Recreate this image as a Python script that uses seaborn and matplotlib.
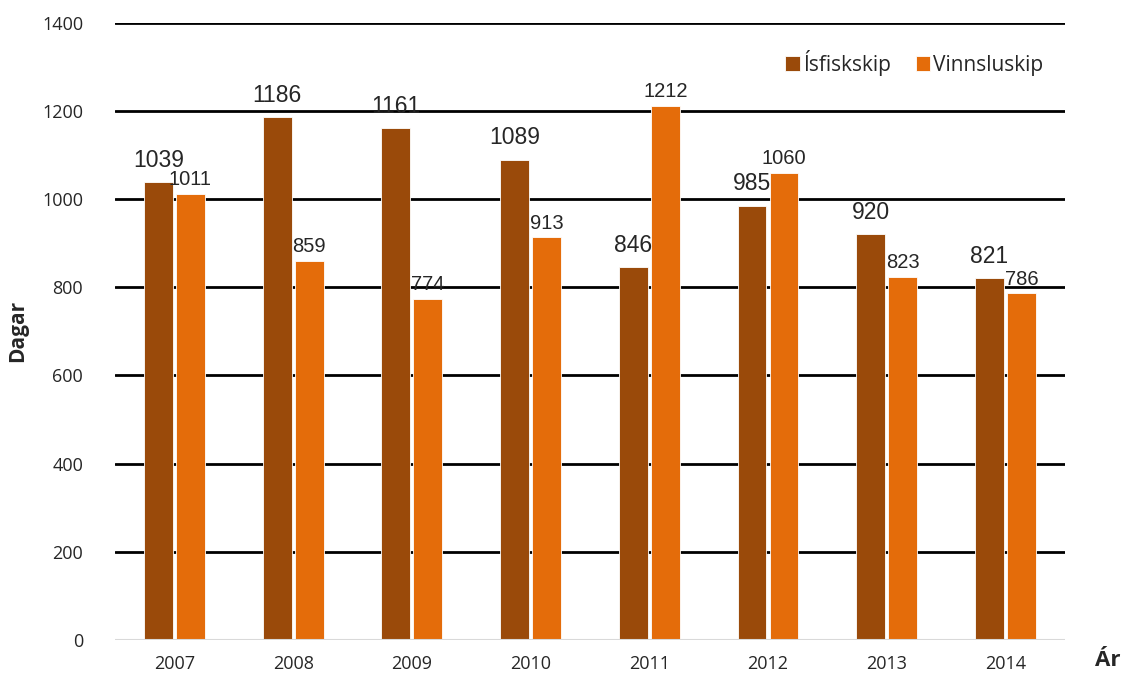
import pandas as pd
import matplotlib.pyplot as plt
import seaborn as sns

# --- data ---
years = ["2007", "2008", "2009", "2010", "2011", "2012", "2013", "2014"]
isfiskskip = [1039, 1186, 1161, 1089, 846, 985, 920, 821]
vinnsluskip = [1011, 859, 774, 913, 1212, 1060, 823, 786]
series = ["Ísfiskskip", "Vinnsluskip"]
colors = ["#9A4A0A", "#E46C0A"]

df = pd.DataFrame({
    "Ár": years * 2,
    "Dagar": isfiskskip + vinnsluskip,
    "Tegund": [series[0]] * len(years) + [series[1]] * len(years),
})

sns.set_style("white")
plt.rcParams["font.family"] = ["Open Sans", "DejaVu Sans"]

fig = plt.figure(figsize=(11.28, 6.82), dpi=100)
ax = fig.add_axes([0.102, 0.0616, 0.842, 0.905])

sns.barplot(data=df, x="Ár", y="Dagar", hue="Tegund", palette=colors,
            width=0.54, gap=0.1, saturation=1, edgecolor="white", linewidth=0.6,
            ax=ax, zorder=3)

# Gridlines in black, baseline light gray
ax.set_ylim(0, 1400)
ax.set_yticks(range(0, 1401, 200))
for y in range(200, 1401, 200):
    ax.axhline(y, color="black", lw=2, zorder=1)
ax.axhline(0, color="#d9d9d9", lw=1.5, zorder=4)
for s in ax.spines.values():
    s.set_visible(False)
ax.tick_params(axis="both", length=0, labelsize=13)
ax.tick_params(axis="x", pad=11)
ax.tick_params(axis="y", pad=23)

# Value labels (Ísfiskskip larger than Vinnsluskip, as in the original)
for cont, fs, pad in zip(ax.containers, [16.5, 14.5], [7.5, 3.5]):
    ax.bar_label(cont, fmt="%d", padding=pad, fontsize=fs,
                 family=["Liberation Sans", "DejaVu Sans"])

ax.set_xlabel("")
ax.set_ylabel("")
fig.text(18 / 1128, 1 - 331 / 682, "Dagar", fontsize=15, fontweight="bold",
         rotation=90, ha="center", va="center")
fig.text(1108 / 1128, 1 - 661 / 682, "Ár", fontsize=16, fontweight="bold",
         ha="center", va="center")

ax.legend(loc="center right", bbox_to_anchor=(1054 / 1128, 1 - 63 / 682),
          bbox_transform=fig.transFigure, ncol=2, frameon=False, borderpad=0,
          fontsize=15, handlelength=0.7, handleheight=0.7, handletextpad=0.15,
          columnspacing=1.2, title=None)

plt.savefig("out.png", dpi=100)
